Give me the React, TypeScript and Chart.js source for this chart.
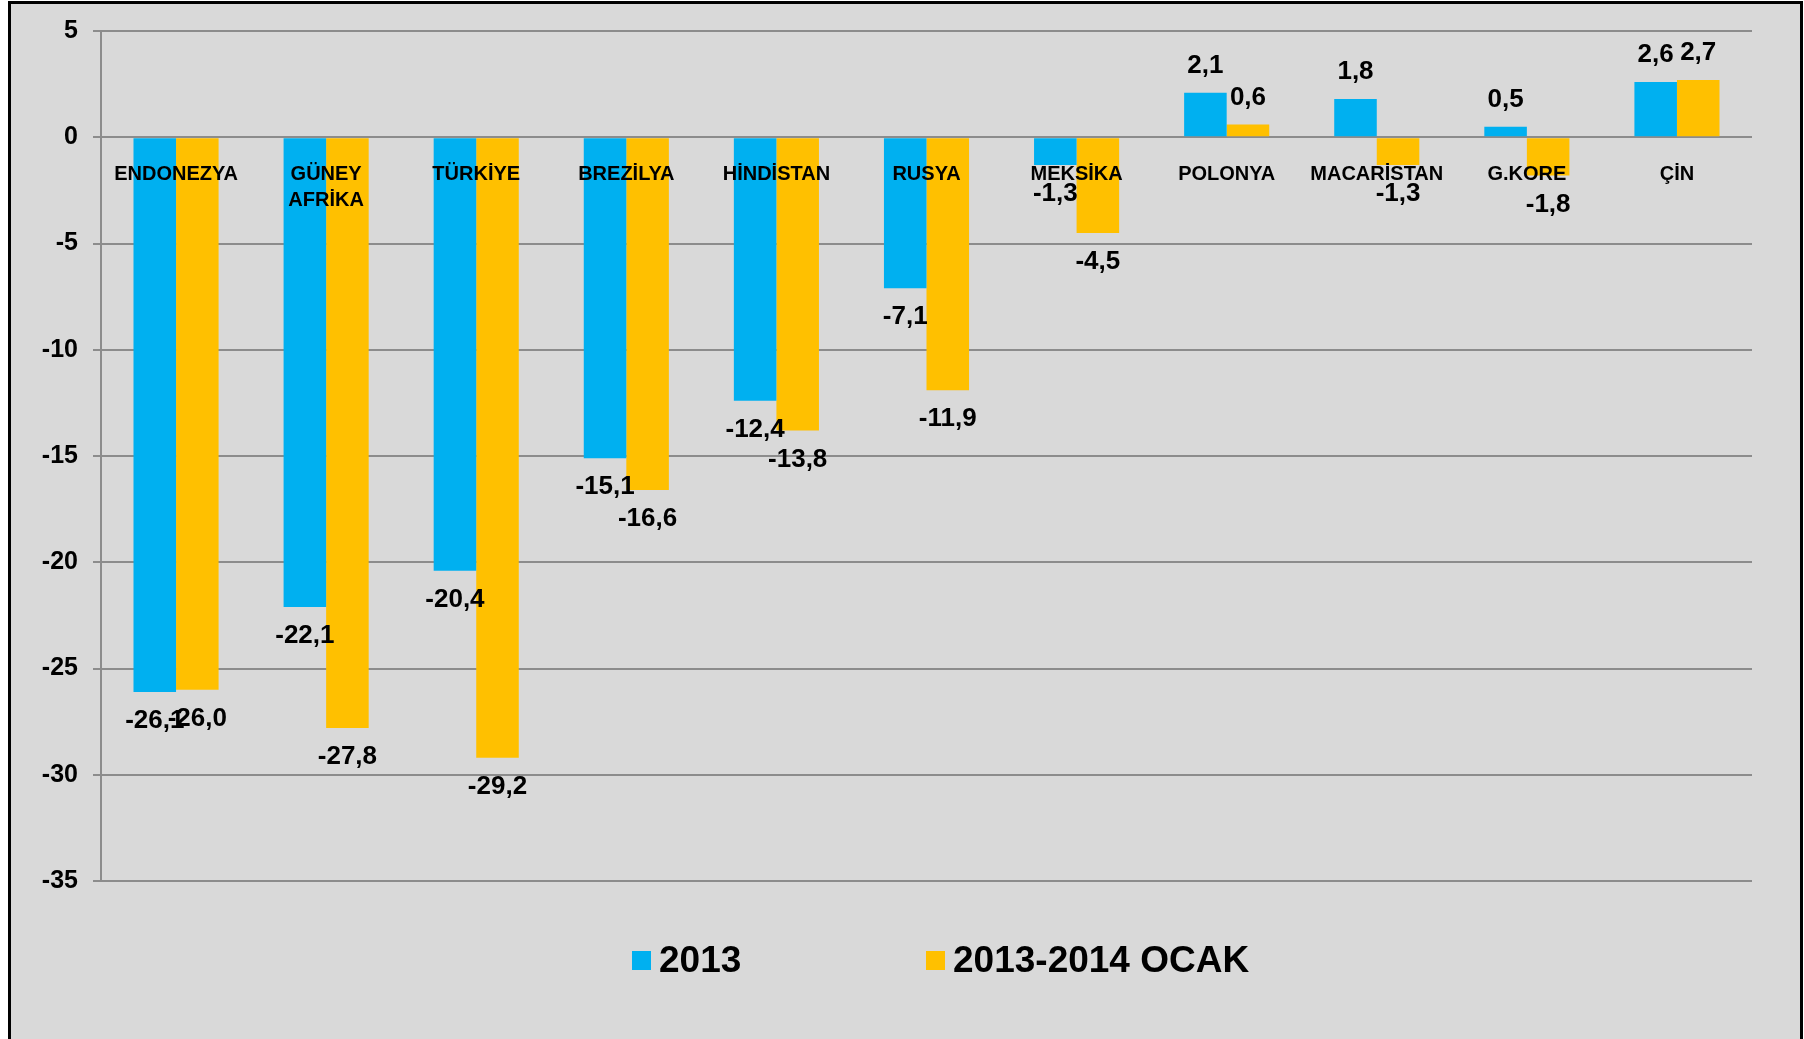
import React, { useEffect, useRef } from "react";
import { Chart, registerables } from "chart.js";

Chart.register(...registerables);

const categories: (string | string[])[] = [
  "ENDONEZYA",
  ["GÜNEY", "AFRİKA"],
  "TÜRKİYE",
  "BREZİLYA",
  "HİNDİSTAN",
  "RUSYA",
  "MEKSİKA",
  "POLONYA",
  "MACARİSTAN",
  "G.KORE",
  "ÇİN",
];

const seriesNames = ["2013", "2013-2014 OCAK"];
const values2013 = [-26.1, -22.1, -20.4, -15.1, -12.4, -7.1, -1.3, 2.1, 1.8, 0.5, 2.6];
const valuesOcak = [-26.0, -27.8, -29.2, -16.6, -13.8, -11.9, -4.5, 0.6, -1.3, -1.8, 2.7];
const seriesColors = ["#00B0F0", "#FFC000"];

const yMin = -35;
const yMax = 5;
const yStep = 5;

const FONT = '"Liberation Sans", Arial, Helvetica, sans-serif';

const dataLabelPlugin = {
  id: "dataLabels",
  afterDatasetsDraw(chart: any) {
    const ctx = chart.ctx;
    ctx.save();
    ctx.font = `bold 26px ${FONT}`;
    ctx.fillStyle = "#000";
    ctx.textAlign = "center";
    ctx.textBaseline = "middle";
    chart.data.datasets.forEach((ds: any, di: number) => {
      const meta = chart.getDatasetMeta(di);
      meta.data.forEach((bar: any, i: number) => {
        const v = ds.data[i] as number;
        const txt = v.toFixed(1).replace(".", ",");
        const y = v < 0 ? bar.y + 29 : bar.y - 27;
        ctx.fillText(txt, bar.x, y);
      });
    });
    ctx.restore();
  },
};

export default function App() {
  const canvasRef = useRef<HTMLCanvasElement | null>(null);

  useEffect(() => {
    if (!canvasRef.current) return;
    const chart = new Chart(canvasRef.current, {
      type: "bar",
      data: {
        labels: categories,
        datasets: [
          {
            label: seriesNames[0],
            data: values2013,
            backgroundColor: seriesColors[0],
            borderWidth: 0,
          },
          {
            label: seriesNames[1],
            data: valuesOcak,
            backgroundColor: seriesColors[1],
            borderWidth: 0,
          },
        ],
      },
      options: {
        animation: false,
        responsive: false,
        maintainAspectRatio: false,
        datasets: {
          bar: {
            categoryPercentage: 0.567,
            barPercentage: 1.0,
          },
        },
        layout: {
          padding: { left: 0, top: 31, right: 52, bottom: 158 },
        },
        plugins: {
          legend: { display: false },
          tooltip: { enabled: false },
          title: { display: false },
        },
        scales: {
          x: {
            position: { y: 0 },
            offset: true,
            grid: { display: false, drawTicks: false },
            border: { display: false },
            ticks: {
              z: 1,
              color: "#000",
              font: { family: FONT, size: 20, weight: "bold", lineHeight: 1.3 },
              padding: 24,
              maxRotation: 0,
              minRotation: 0,
              autoSkip: false,
            },
          },
          y: {
            min: yMin,
            max: yMax,
            afterFit: (s: any) => {
              s.width = 101;
            },
            grid: {
              color: "#8C8C8C",
              lineWidth: 2,
              drawTicks: true,
              tickLength: 8,
            },
            border: { display: true, color: "#8C8C8C", width: 2 },
            ticks: {
              stepSize: yStep,
              color: "#000",
              font: { family: FONT, size: 25, weight: "bold" },
              padding: 15,
              callback: (v: any) => String(v),
            },
          },
        },
      },
      plugins: [dataLabelPlugin],
    });
    return () => chart.destroy();
  }, []);

  return (
    <div
      style={{
        position: "absolute",
        left: 0,
        top: 0,
        width: 1804,
        height: 1039,
        overflow: "hidden",
        background: "#FFFFFF",
      }}
    >
      <div
        style={{
          position: "absolute",
          left: 8,
          top: 1,
          width: 1795,
          height: 1100,
          boxSizing: "border-box",
          borderTop: "3px solid #000",
          borderLeft: "3px solid #000",
          borderRight: "3px solid #000",
          background: "#D9D9D9",
        }}
      />
      <canvas
        ref={canvasRef}
        width={1804}
        height={1039}
        style={{ position: "absolute", left: 0, top: 0, width: 1804, height: 1039 }}
      />
      {seriesNames.map((name, i) => (
        <div
          key={name}
          style={{
            position: "absolute",
            left: i === 0 ? 632 : 926,
            top: 938,
            height: 44,
            display: "flex",
            alignItems: "center",
            fontFamily: FONT,
            fontWeight: "bold",
            fontSize: 37,
            color: "#000",
            whiteSpace: "nowrap",
          }}
        >
          <span
            style={{
              display: "inline-block",
              width: 19,
              height: 19,
              background: seriesColors[i],
              marginRight: 8,
            }}
          />
          <span>{name}</span>
        </div>
      ))}
    </div>
  );
}
